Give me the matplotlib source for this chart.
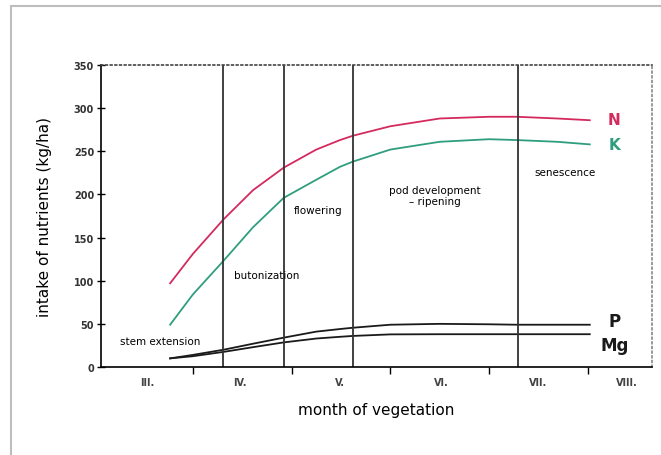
import numpy as np
import matplotlib.pyplot as plt
from matplotlib.patches import Rectangle

# months (x = 0 at start of III, 1 month per unit)
month_labels = ["III.", "IV.", "V.", "VI.", "VII.", "VIII."]
month_pos = [0.54, 1.48, 2.49, 3.52, 4.5, 5.4]
month_bounds = [1, 2, 3, 4, 5]

# phase boundaries (vertical lines)
phase_lines = [1.31, 1.92, 2.62, 4.29]

# nutrient intake (kg/ha)
x = [0.77, 1.0, 1.31, 1.61, 1.92, 2.25, 2.49, 2.62, 3.0, 3.5, 4.0, 4.28, 4.69, 5.02]
N = [97, 131, 171, 205, 231, 252, 263, 268, 279, 288, 290, 290, 288, 286]
K = [49, 84, 123, 162, 196, 217, 232, 238, 252, 261, 264, 263, 261, 258]
P = [10, 14, 20, 27, 34, 41, 44, 45.5, 49, 50, 49.5, 49, 49, 49]
Mg = [10, 12.5, 17.5, 23, 28.5, 33, 35, 36, 37.8, 38, 38, 38, 38, 38]

red = '#d42a5e'
green = '#2f9e7e'

fig = plt.figure(figsize=(6.61, 4.56), dpi=100)
fig.patches.append(Rectangle((11/661, -0.1), 1.2, (456-7)/456 + 0.1,
                             transform=fig.transFigure, fill=False,
                             edgecolor='#bdbdbd', lw=1.5))
ax = fig.add_axes([101/661, 88/456, 551/661, 302/456])

ax.plot(x, N, color=red, lw=1.3)
ax.plot(x, K, color=green, lw=1.3)
ax.plot(x, P, color='#1a1a1a', lw=1.3)
ax.plot(x, Mg, color='#1a1a1a', lw=1.3)

for v in phase_lines:
    ax.axvline(v, color='#333333', lw=1.3)

ax.set_xlim(0.07, 5.65)
ax.set_ylim(0, 350)

for s in ['top', 'right']:
    ax.spines[s].set_linestyle((0, (1, 1.8)))
    ax.spines[s].set_linewidth(1.2)
ax.spines['top'].set_color('#444444')
ax.spines['right'].set_color('#888888')
ax.spines['left'].set_linewidth(1.2)
ax.spines['bottom'].set_linewidth(1.2)

ax.set_yticks(range(0, 351, 50))
ax.tick_params(axis='y', direction='inout', length=6, width=1, labelsize=7,
               labelcolor='#333333', pad=2)
for t in ax.get_yticklabels():
    t.set_fontweight('bold')

ax.set_xticks(month_bounds)
ax.set_xticklabels([])
ax.tick_params(axis='x', which='major', direction='out', length=5, width=1)
ax.set_xticks(month_pos, minor=True)
ax.set_xticklabels(month_labels, minor=True, fontsize=7, fontweight='bold',
                   color='#444444')
ax.tick_params(axis='x', which='minor', length=0, pad=7)

ax.set_ylabel('intake of nutrients (kg/ha)', fontsize=11, labelpad=16)
ax.set_xlabel('month of vegetation', fontsize=11, labelpad=11)

# series labels
ax.text(5.27, 287, 'N', color=red, fontsize=11, fontweight='bold', ha='center', va='center')
ax.text(5.27, 258, 'K', color=green, fontsize=11, fontweight='bold', ha='center', va='center')
ax.text(5.27, 53, 'P', color='#1a1a1a', fontsize=12, fontweight='bold', ha='center', va='center')
ax.text(5.27, 26, 'Mg', color='#1a1a1a', fontsize=12, fontweight='bold', ha='center', va='center')

# phase labels
fs = 7.5
ax.text(0.67, 30, 'stem extension', fontsize=fs, ha='center', va='center')
ax.text(1.75, 107, 'butonization', fontsize=fs, ha='center', va='center')
ax.text(2.27, 182, 'flowering', fontsize=fs, ha='center', va='center')
ax.text(3.45, 199, 'pod development\n– ripening', fontsize=fs, ha='center', va='center',
        linespacing=1.1)
ax.text(4.77, 226, 'senescence', fontsize=fs, ha='center', va='center')

fig.savefig('out.png', dpi=100)
